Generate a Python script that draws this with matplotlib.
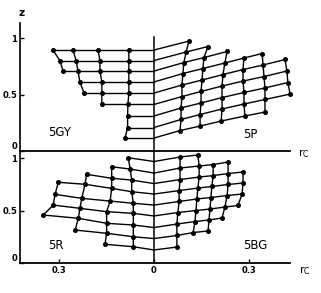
import matplotlib
matplotlib.use('Agg')
import matplotlib.pyplot as plt

# value rows meet the achromatic axis (r_c = 0) at these heights
center_top_z = [0.894, 0.801, 0.708, 0.611, 0.513, 0.412, 0.310, 0.208, 0.115]
center_bot_z = [0.967, 0.857, 0.757, 0.657, 0.552, 0.448, 0.338, 0.233, 0.124]

# 5GY (upper left): one list per chroma column, first row index in *_start
gy_start = [0, 0, 0, 0]
gy_r = [[-0.079, -0.079, -0.079, -0.079, -0.079, -0.082, -0.083, -0.083, -0.091],
        [-0.176, -0.170, -0.170, -0.164, -0.164, -0.164],
        [-0.255, -0.245, -0.239, -0.233, -0.220],
        [-0.318, -0.296, -0.286]]
gy_z = [[0.894, 0.801, 0.708, 0.611, 0.513, 0.412, 0.310, 0.208, 0.115],
        [0.894, 0.801, 0.708, 0.611, 0.513, 0.412],
        [0.894, 0.801, 0.708, 0.611, 0.513],
        [0.894, 0.801, 0.708]]

# 5P (upper right)
p_start = [0, 1, 2, 3, 3, 4]
p_r = [[0.110, 0.101, 0.094, 0.091, 0.088, 0.088, 0.085, 0.085, 0.082],
       [0.170, 0.157, 0.154, 0.151, 0.148, 0.148, 0.145, 0.145],
       [0.230, 0.223, 0.217, 0.214, 0.214, 0.214, 0.211],
       [0.283, 0.280, 0.280, 0.283, 0.283, 0.286],
       [0.340, 0.343, 0.346, 0.349, 0.349, 0.349],
       [0.412, 0.418, 0.421, 0.428]]
p_z = [[0.973, 0.876, 0.783, 0.686, 0.584, 0.482, 0.381, 0.279, 0.181],
       [0.925, 0.827, 0.730, 0.628, 0.527, 0.425, 0.323, 0.221],
       [0.881, 0.779, 0.677, 0.575, 0.473, 0.372, 0.265],
       [0.823, 0.721, 0.619, 0.518, 0.416, 0.310],
       [0.863, 0.761, 0.659, 0.558, 0.456, 0.345],
       [0.810, 0.708, 0.606, 0.504]]

# 5R (lower left)
r_start = [0, 1, 2, 3]
rr_r = [[-0.081, -0.075, -0.070, -0.070, -0.065, -0.065, -0.065, -0.065, -0.065],
        [-0.133, -0.133, -0.133, -0.138, -0.149, -0.149, -0.149, -0.154],
        [-0.212, -0.217, -0.227, -0.233, -0.238, -0.248],
        [-0.301, -0.311, -0.317, -0.348]]
rr_z = [[1.003, 0.895, 0.790, 0.679, 0.569, 0.473, 0.362, 0.250, 0.155],
        [0.917, 0.807, 0.711, 0.590, 0.489, 0.378, 0.283, 0.178],
        [0.845, 0.750, 0.616, 0.521, 0.426, 0.314],
        [0.769, 0.654, 0.552, 0.457]]

# 5BG (lower right)
bg_start = [0, 0, 1, 1, 2]
bg_r = [[0.082, 0.082, 0.082, 0.079, 0.079, 0.075, 0.072, 0.072, 0.072],
        [0.138, 0.142, 0.142, 0.138, 0.135, 0.132, 0.129, 0.123],
        [0.186, 0.186, 0.182, 0.179, 0.176, 0.173, 0.170],
        [0.233, 0.233, 0.233, 0.230, 0.223, 0.214],
        [0.280, 0.280, 0.277, 0.264]]
bg_z = [[1.010, 0.905, 0.795, 0.690, 0.586, 0.481, 0.371, 0.262, 0.152],
        [1.029, 0.924, 0.819, 0.714, 0.610, 0.500, 0.395, 0.290],
        [0.938, 0.833, 0.729, 0.624, 0.514, 0.410, 0.305],
        [0.962, 0.852, 0.748, 0.643, 0.533, 0.429],
        [0.867, 0.762, 0.657, 0.548]]


def draw_grid(ax, center_z, start, cols_r, cols_z):
    # value rows: from the axis out through every column that has this row
    for i, zc in enumerate(center_z):
        xs, ys = [0.0], [zc]
        for k in range(len(cols_r)):
            j = i - start[k]
            if 0 <= j < len(cols_r[k]):
                xs.append(cols_r[k][j])
                ys.append(cols_z[k][j])
        ax.plot(xs, ys, color='k', lw=1.0, clip_on=False)
    # chroma columns with the sample dots
    for k in range(len(cols_r)):
        ax.plot(cols_r[k], cols_z[k], color='k', lw=1.0, marker='o', ms=2.6,
                clip_on=False)


fig = plt.figure(figsize=(3.21, 2.93), dpi=100)
ax1 = fig.add_axes([0.0623, 0.4846, 0.8411, 0.4369])
ax2 = fig.add_axes([0.0623, 0.1024, 0.8411, 0.3822])

for ax, top in ((ax1, 1.133), (ax2, 1.067)):
    ax.set_facecolor('none')  # lower panel must not hide the upper r_c line
    ax.set_xlim(-0.4214, 0.4277)
    ax.set_ylim(0, top)
    ax.spines['top'].set_visible(False)
    ax.spines['right'].set_visible(False)
    ax.spines['left'].set_linewidth(1.2)
    ax.spines['bottom'].set_linewidth(1.3)
    ax.set_yticks([0, 0.5, 1])
    ax.set_yticklabels(['0', '0.5', '1'], fontsize=6, fontweight='bold')
    ax.tick_params(axis='both', direction='in', length=3, width=1, pad=2)
    ax.yaxis.get_major_ticks()[0].label1.set_va('bottom')

ax1.set_xticks([])
ax2.set_xticks([-0.3, 0, 0.3])
ax2.set_xticklabels(['0.3', '0', '0.3'], fontsize=6, fontweight='bold')

# achromatic axis
ax1.plot([0, 0], [0, 1.009], color='k', lw=1.1)
ax2.plot([0, 0], [0, 1.067], color='k', lw=1.1)

draw_grid(ax1, center_top_z, gy_start, gy_r, gy_z)
draw_grid(ax1, center_top_z, p_start, p_r, p_z)
draw_grid(ax2, center_bot_z, r_start, rr_r, rr_z)
draw_grid(ax2, center_bot_z, bg_start, bg_r, bg_z)

# hue labels
ax1.text(-0.296, 0.168, '5GY', fontsize=8.5, ha='center', va='center')
ax1.text(0.302, 0.150, '5P', fontsize=8.5, ha='center', va='center')
ax2.text(-0.308, 0.165, '5R', fontsize=8.5, ha='center', va='center')
ax2.text(0.318, 0.165, '5BG', fontsize=8.5, ha='center', va='center')

# axis names
ax1.text(-0.418, 1.22, 'z', fontsize=7.5, fontweight='bold', ha='center',
         va='center', clip_on=False)
ax1.text(0.47, -0.02, r'$\mathregular{r_C}$', fontsize=8, ha='center',
         va='center', clip_on=False)
ax2.text(0.475, -0.07, r'$\mathregular{r_C}$', fontsize=8, ha='center',
         va='center', clip_on=False)

fig.savefig('out.png', dpi=100)
